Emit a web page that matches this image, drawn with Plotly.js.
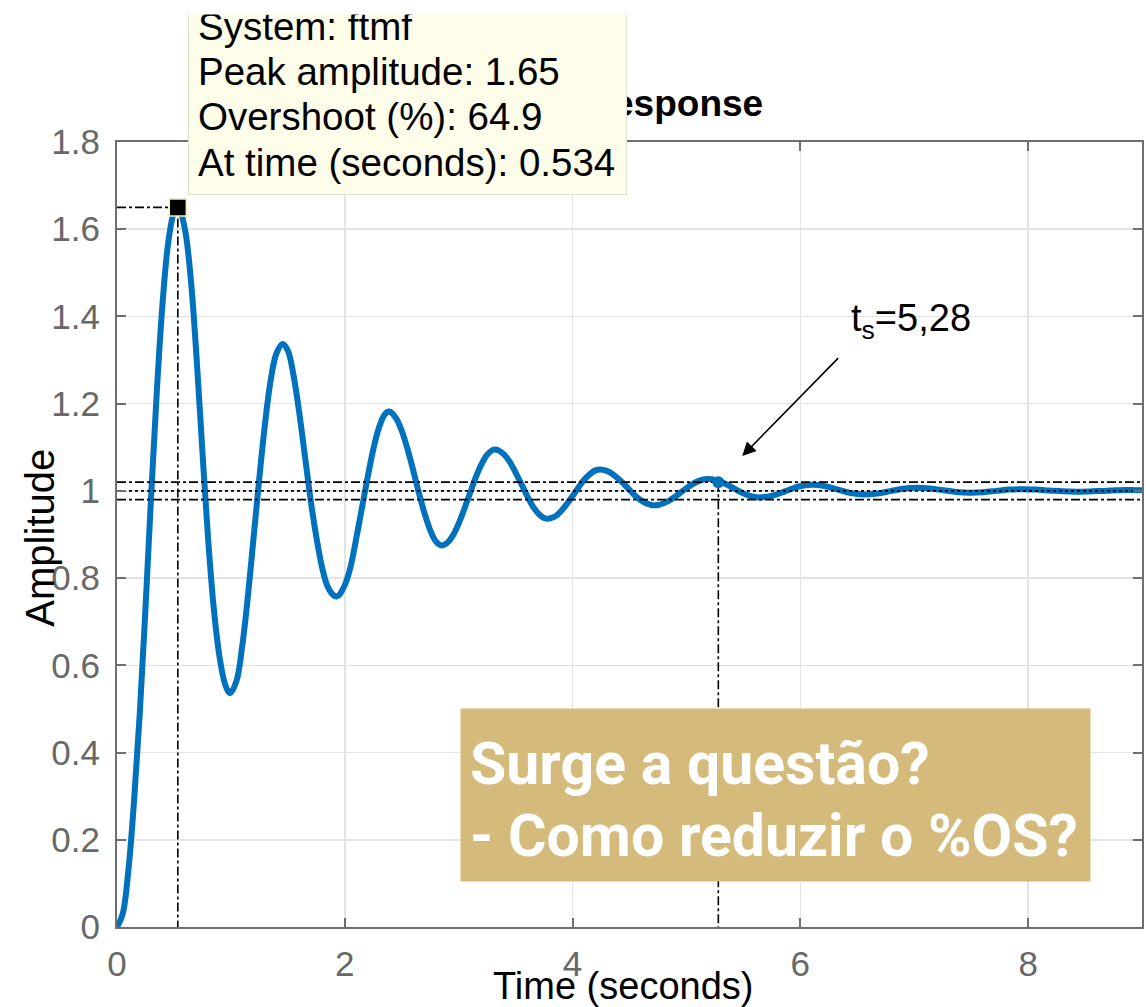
<!DOCTYPE html>
<html>
<head>
<meta charset="utf-8">
<script src="https://cdn.plot.ly/plotly-3.0.1.min.js"></script>
<style>
  html, body { margin: 0; padding: 0; background: #ffffff; }
  #chart { width: 1146px; height: 1007px; }
</style>
</head>
<body>
<div id="chart"></div>
<script>
// Step response samples (time in seconds, amplitude)
const timeS = [
  0, 0.05, 0.10, 0.15, 0.20, 0.25, 0.30, 0.35, 0.40, 0.45, 0.50, 0.534,
  0.55, 0.60, 0.65, 0.70, 0.75, 0.80, 0.85, 0.90, 0.95, 0.993,
  1.05, 1.10, 1.15, 1.20, 1.25, 1.30, 1.35, 1.40, 1.454,
  1.50, 1.55, 1.60, 1.65, 1.70, 1.75, 1.80, 1.85, 1.90, 1.927,
  1.95, 2.00, 2.05, 2.10, 2.15, 2.20, 2.25, 2.30, 2.35, 2.385,
  2.40, 2.45, 2.50, 2.55, 2.60, 2.65, 2.70, 2.75, 2.80, 2.852,
  2.90, 2.95, 3.00, 3.05, 3.10, 3.15, 3.20, 3.25, 3.30, 3.32,
  3.35, 3.40, 3.45, 3.50, 3.55, 3.60, 3.65, 3.70, 3.75, 3.78,
  3.80, 3.85, 3.90, 3.95, 4.00, 4.05, 4.10, 4.15, 4.20, 4.242,
  4.30, 4.35, 4.40, 4.45, 4.50, 4.55, 4.60, 4.65, 4.70, 4.716,
  4.75, 4.80, 4.85, 4.90, 4.95, 5.00, 5.05, 5.10, 5.15, 5.19,
  5.25, 5.30, 5.35, 5.40, 5.45, 5.50, 5.55, 5.60, 5.64,
  5.755, 5.87, 5.985, 6.10,
  6.215, 6.33, 6.445, 6.56, 6.675, 6.79, 6.905, 7.02,
  7.138, 7.255, 7.373, 7.49, 7.605, 7.72, 7.835, 7.95,
  8.068, 8.185, 8.303, 8.42, 8.535, 8.65, 8.765, 8.88, 9.0
];
const amplitude = [
  0, 0.03, 0.13, 0.29, 0.49, 0.73, 0.99, 1.23, 1.43, 1.57, 1.638, 1.65,
  1.646, 1.595, 1.48, 1.30, 1.09, 0.89, 0.73, 0.62, 0.556, 0.536,
  0.565, 0.645, 0.76, 0.895, 1.03, 1.155, 1.255, 1.315, 1.337,
  1.322, 1.265, 1.18, 1.08, 0.98, 0.895, 0.825, 0.78, 0.761, 0.758,
  0.761, 0.784, 0.825, 0.89, 0.96, 1.03, 1.095, 1.145, 1.175, 1.182,
  1.181, 1.167, 1.138, 1.097, 1.048, 0.996, 0.949, 0.910, 0.884, 0.875,
  0.881, 0.898, 0.925, 0.959, 0.995, 1.031, 1.061, 1.083, 1.094, 1.095,
  1.093, 1.083, 1.066, 1.042, 1.016, 0.989, 0.965, 0.948, 0.938, 0.936,
  0.937, 0.942, 0.954, 0.970, 0.988, 1.007, 1.025, 1.038, 1.047, 1.049,
  1.046, 1.039, 1.0285, 1.016, 1.0023, 0.989, 0.9785, 0.9709, 0.9672, 0.967,
  0.9677, 0.9715, 0.978, 0.9867, 0.9964, 1.0062, 1.015, 1.0218, 1.026, 1.027,
  1.0252, 1.0211, 1.0152, 1.0082, 1.0009, 0.9943, 0.989, 0.9858, 0.985,
  0.989, 0.9995, 1.010, 1.014,
  1.011, 1.003, 0.995, 0.992, 0.994, 0.9995, 1.005, 1.007,
  1.0054, 1.0015, 0.9976, 0.996, 0.997, 1.0, 1.003, 1.004,
  1.003, 1.001, 0.999, 0.998, 0.9986, 1.0, 1.0014, 1.002, 1.0015
];

// Characteristic values
const peakTime = 0.534;
const peakAmp = 1.65;
const settleTime = 5.28;
const settleAmp = 1.02;
const finalValue = 1.0;
const bandHigh = 1.02;
const bandLow = 0.98;
const xRange = [0, 9];
const yRange = [0, 1.8];

const tipLines = [
  'System: ftmf',
  'Peak amplitude: 1.65',
  'Overshoot (%): 64.9',
  'At time (seconds): 0.534'
];
const settleLabel = 't<sub>s</sub>=5,28';
const calloutLines = ['Surge a questão?', '- Como reduzir o %OS?'];

const blue = '#0072BD';
const refLine = {color: '#000000', width: 1.6, dash: 'dashdot'};
const sans = 'Liberation Sans, Arial, Helvetica, sans-serif';
const tickFont = {family: sans, size: 35, color: '#686868'};

const traces = [
  {x: timeS, y: amplitude, type: 'scatter', mode: 'lines',
   line: {color: blue, width: 6, shape: 'spline', smoothing: 1}, hoverinfo: 'skip'},
  {x: [xRange[0], peakTime, peakTime], y: [peakAmp, peakAmp, yRange[0]], mode: 'lines', line: refLine, hoverinfo: 'skip'},
  {x: xRange, y: [bandHigh, bandHigh], mode: 'lines', line: refLine, hoverinfo: 'skip'},
  {x: xRange, y: [bandLow, bandLow], mode: 'lines', line: refLine, hoverinfo: 'skip'},
  {x: xRange, y: [finalValue, finalValue], mode: 'lines', line: {color: '#000000', width: 1.6, dash: 'dot'}, hoverinfo: 'skip'},
  {x: [settleTime, settleTime], y: [settleAmp, yRange[0]], mode: 'lines', line: refLine, hoverinfo: 'skip'},
  {x: [peakTime], y: [peakAmp], mode: 'markers', cliponaxis: false,
   marker: {symbol: 'square', size: 17, color: '#000000', line: {color: '#f3eec0', width: 1.5}}, hoverinfo: 'skip'},
  {x: [settleTime], y: [settleAmp], mode: 'markers',
   marker: {symbol: 'circle', size: 12, color: blue}, hoverinfo: 'skip'}
];

const axisCommon = {
  showgrid: true, gridcolor: '#e3e3e3', gridwidth: 1.5,
  zeroline: false, showline: true, linecolor: '#6f6f6f', linewidth: 2,
  mirror: 'ticks', ticks: 'inside', ticklen: 9, tickwidth: 2, tickcolor: '#6f6f6f',
  tickfont: tickFont, fixedrange: true
};

// pixel helpers for paper-positioned overlays (plot area: x 117..1142, y 142..927)
const px = v => (v - 117) / 1025;
const py = v => (927 - v) / 785;

const annotations = [
  {text: 'Amplitude', xref: 'paper', yref: 'paper', x: px(40), y: 0.496,
   xanchor: 'center', yanchor: 'middle', textangle: -90, showarrow: false,
   font: {family: sans, size: 40, color: '#000000'}},
  {text: 'Time (seconds)', xref: 'paper', yref: 'paper', x: px(623), y: py(986),
   xanchor: 'center', yanchor: 'middle', showarrow: false,
   font: {family: sans, size: 38, color: '#000000'}},
  // data tip box
  {text: ' ', xref: 'paper', yref: 'paper', x: px(188), y: py(195), xanchor: 'left', yanchor: 'bottom',
   showarrow: false, bgcolor: '#fdfdea', bordercolor: '#e2e2d2', borderwidth: 1, borderpad: 0,
   width: 437, height: 200, font: {size: 10}}
];
const tipBaselines = [39, 84, 129, 175];
tipLines.forEach((line, i) => {
  annotations.push({text: line, xref: 'paper', yref: 'paper', x: px(196), y: py(tipBaselines[i] - 13),
    xanchor: 'left', yanchor: 'middle', showarrow: false,
    font: {family: sans, size: 38.5, color: '#000000'}});
});
annotations.push(
  // white band above the cropped tip box (clips the first line like the reference)
  {text: ' ', xref: 'paper', yref: 'paper', x: px(180), y: py(15), xanchor: 'left', yanchor: 'bottom',
   showarrow: false, bgcolor: '#ffffff', width: 470, height: 40, borderpad: 0, font: {size: 10}},
  {text: ' ', x: 5.49, y: 1.08, xref: 'x', yref: 'y', ax: 6.35, ay: 1.309, axref: 'x', ayref: 'y',
   showarrow: true, arrowhead: 2, arrowsize: 1.7, arrowwidth: 1.6, arrowcolor: '#000000', standoff: 0,
   font: {size: 4}},
  {text: settleLabel, x: 6.43, y: 1.39, xref: 'x', yref: 'y', xanchor: 'left', yanchor: 'middle',
   showarrow: false, font: {family: sans, size: 38, color: '#000000'}},
  // callout box
  {text: ' ', xref: 'paper', yref: 'paper', x: px(460), y: py(882), xanchor: 'left', yanchor: 'bottom',
   showarrow: false, bgcolor: '#d4ba7b', borderpad: 0, width: 629, height: 172, font: {size: 10}}
);
const calloutBaselines = [783, 855];
calloutLines.forEach((line, i) => {
  annotations.push({text: '<b>' + line + '</b>', xref: 'paper', yref: 'paper', x: px(468),
    y: py(calloutBaselines[i] - 20), xanchor: 'left', yanchor: 'middle', showarrow: false,
    font: {family: 'Roboto, Noto Sans, sans-serif', size: 59, color: '#ffffff'}});
});

const layout = {
  width: 1146, height: 1007,
  margin: {l: 117, r: 4, t: 142, b: 80, pad: 0},
  paper_bgcolor: '#ffffff', plot_bgcolor: '#ffffff',
  showlegend: false,
  title: {text: '<b>Step Response</b>', x: 0.5, xref: 'paper', xanchor: 'center',
          y: 0.898, yref: 'container', yanchor: 'middle',
          font: {family: sans, size: 37, color: '#000000'}},
  xaxis: Object.assign({}, axisCommon, {range: xRange, tick0: 0, dtick: 2, ticklabelstandoff: 5}),
  yaxis: Object.assign({}, axisCommon, {range: yRange, tick0: 0, dtick: 0.2, ticklabelstandoff: 8}),
  annotations: annotations
};

Plotly.newPlot('chart', traces, layout, {displayModeBar: false, staticPlot: true});
</script>
</body>
</html>
